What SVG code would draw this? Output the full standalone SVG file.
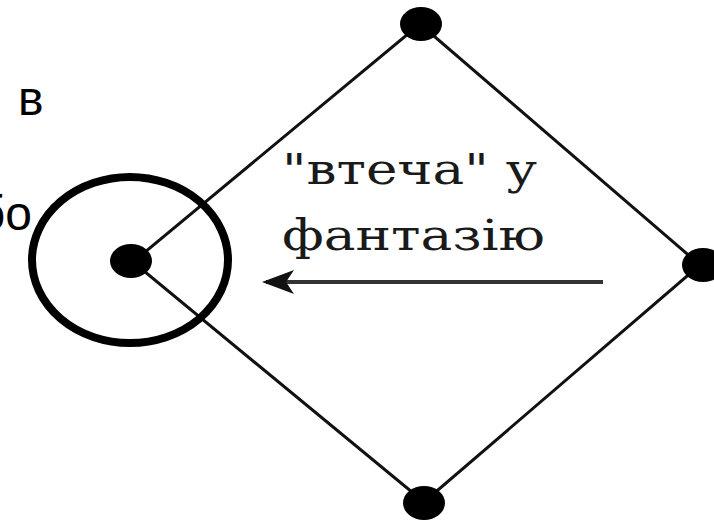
<svg xmlns="http://www.w3.org/2000/svg" width="714" height="523" viewBox="0 0 714 523">
<style>
.edge{stroke:#111;stroke-width:3;fill:none}
.dot{fill:#000}
.sans{font-family:"Liberation Sans",Arial,sans-serif;font-size:48px;fill:#000}
.serif{font-family:"DejaVu Serif","Liberation Serif",serif;font-size:42px;fill:#1a1a1a}
</style>
<defs>
<marker id="ah" markerWidth="8" markerHeight="6" refX="7" refY="3" orient="auto" markerUnits="strokeWidth">
<path d="M8,3 L0,0 L2,3 L0,6 Z" fill="#111"/>
</marker>
</defs>
<rect width="714" height="523" fill="#fff"/>
<g id="connectors">
<path class="edge" d="M133,262 L420,24 L700,265 L424,502 Z"/>
<line x1="603" y1="282" x2="266" y2="282" stroke="#333" stroke-width="4" marker-end="url(#ah)"/>
</g>
<g id="ring">
<ellipse cx="130" cy="260" rx="98" ry="83" fill="none" stroke="#000" stroke-width="8"/>
</g>
<g id="node-left"><ellipse class="dot" cx="131" cy="261" rx="21" ry="17"/></g>
<g id="node-top"><ellipse class="dot" cx="421" cy="24" rx="21" ry="17"/></g>
<g id="node-right"><ellipse class="dot" cx="703" cy="265" rx="21" ry="17"/></g>
<g id="node-bottom"><ellipse class="dot" cx="424" cy="503" rx="21" ry="17"/></g>
<g id="labels">
<text class="sans" x="18" y="115">в</text>
<text class="sans" x="32" y="230" text-anchor="end">бо</text>
<text class="serif" x="282" y="184" textLength="255" lengthAdjust="spacingAndGlyphs">"втеча" у</text>
<text class="serif" x="282" y="250" textLength="263" lengthAdjust="spacingAndGlyphs">фантазію</text>
</g>
</svg>
